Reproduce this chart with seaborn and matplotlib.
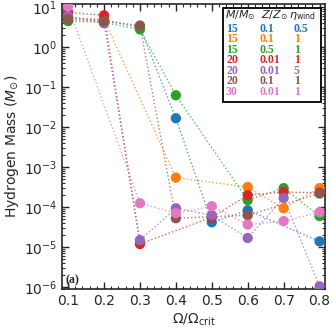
import numpy as np
import pandas as pd
import matplotlib
matplotlib.use("Agg")
import matplotlib.pyplot as plt
from matplotlib.patches import Rectangle
from matplotlib.ticker import MultipleLocator, LogLocator, NullFormatter
import seaborn as sns

nan = np.nan
omega = [0.1, 0.2, 0.3, 0.4, 0.5, 0.6, 0.7, 0.8]
decades = [1e-6, 1e-5, 1e-4, 1e-3, 1e-2, 1e-1, 1e0, 1e1]

# models: mass, metallicity, wind factor
masses = ["15", "15", "15", "20", "20", "20", "30"]
metals = ["0.1", "0.1", "0.5", "0.01", "0.01", "0.1", "0.01"]
winds = ["0.5", "1", "1", "1", "5", "1", "1"]

# hydrogen mass left (Msun), nan where no model point
h_blue = [5.5, 4.8, 3.2, 0.0168, 4.2e-5, 8.4e-5, nan, 1.4e-5]
h_orange = [5.5, 5.0, nan, 5.5e-4, nan, 3.2e-4, 9.4e-5, 3.0e-4]
h_green = [4.5, 4.2, 2.8, 0.063, nan, 1.5e-4, 3.0e-4, 6.0e-5]
h_red = [7.5, 6.3, 1.2e-5, nan, 5.6e-5, 2.0e-4, 2.4e-4, 2.3e-4]
h_purple = [6.0, 4.0, 1.5e-5, 9.4e-5, 6.3e-5, 1.7e-5, 1.7e-4, 1.05e-6]
h_brown = [5.0, 4.5, 3.5, 5.3e-5, nan, 6.3e-5, nan, 2.2e-4]
h_pink = [10.5, nan, 1.26e-4, 7.1e-5, 1.06e-4, 3.7e-5, 4.5e-5, 7.5e-5]

series = [h_blue, h_orange, h_green, h_red, h_purple, h_brown, h_pink]
colors = sns.color_palette("tab10", 7)

rows = []
for i, vals in enumerate(series):
    for x, v in zip(omega, vals):
        rows.append((i, x, v))
df = pd.DataFrame(rows, columns=["model", "omega", "mass"]).dropna()

sns.set_style("ticks")
plt.rcParams["font.family"] = ["DejaVu Sans"]
plt.rcParams["mathtext.fontset"] = "dejavusans"

fig = plt.figure(figsize=(3.32, 3.32), dpi=100)
ax = fig.add_axes([0.1867, 0.1295, 0.792, 0.858])

sns.lineplot(data=df, x="omega", y="mass", hue="model", palette=colors,
             linestyle=":", linewidth=1.0, alpha=0.75, legend=False, ax=ax,
             estimator=None, sort=True)
sns.scatterplot(data=df, x="omega", y="mass", hue="model", palette=colors,
                s=55, edgecolor="none", legend=False, ax=ax, zorder=3)

ax.set_yscale("log")
ax.set_xlim(0.083, 0.815)
ax.set_ylim(9e-7, 12)
ax.set_xticks(omega)
ax.set_xticklabels([f"{x:.1f}" for x in omega])
ax.xaxis.set_minor_locator(MultipleLocator(0.02))
ax.set_yticks(decades)
ax.yaxis.set_minor_locator(LogLocator(base=10, subs=np.arange(2, 10), numticks=20))
ax.yaxis.set_minor_formatter(NullFormatter())

ax.tick_params(which="both", direction="in", top=True, right=True, labelsize=10)
ax.tick_params(which="major", length=5, width=1)
ax.tick_params(which="minor", length=2.5, width=0.8)
for sp in ax.spines.values():
    sp.set_linewidth(1.2)

ax.set_xlabel(r"$\Omega/\Omega_{\rm crit}$", fontsize=10, labelpad=3)
ax.set_ylabel(r"Hydrogen Mass ($M_{\odot}$)", fontsize=10, labelpad=2)

# table-style legend
ax.add_patch(Rectangle((0.612, 0.656), 0.373, 0.330, transform=ax.transAxes,
                       facecolor="white", edgecolor="black", linewidth=1.3, zorder=5))
hy = 0.960
ax.text(0.620, hy, r"$M/M_{\odot}$", transform=ax.transAxes, fontsize=8, va="center", zorder=6)
ax.text(0.758, hy, r"$Z/Z_{\odot}$", transform=ax.transAxes, fontsize=8, va="center", zorder=6)
ax.text(0.862, hy, r"$\eta_{\rm wind}$", transform=ax.transAxes, fontsize=8, va="center", zorder=6)
row_y = [0.914, 0.877, 0.840, 0.803, 0.766, 0.729, 0.691]
for i in range(7):
    for xcol, txt in zip([0.624, 0.753, 0.882], [masses[i], metals[i], winds[i]]):
        ax.text(xcol, row_y[i], txt, transform=ax.transAxes, color=colors[i],
                fontsize=8.5, fontweight="bold", family="Liberation Serif",
                va="center", zorder=6)

ax.text(0.012, 0.032, "(a)", transform=ax.transAxes, fontsize=8.5,
        fontweight="bold", family="Liberation Serif", va="center")

fig.savefig("out.png", dpi=100)
